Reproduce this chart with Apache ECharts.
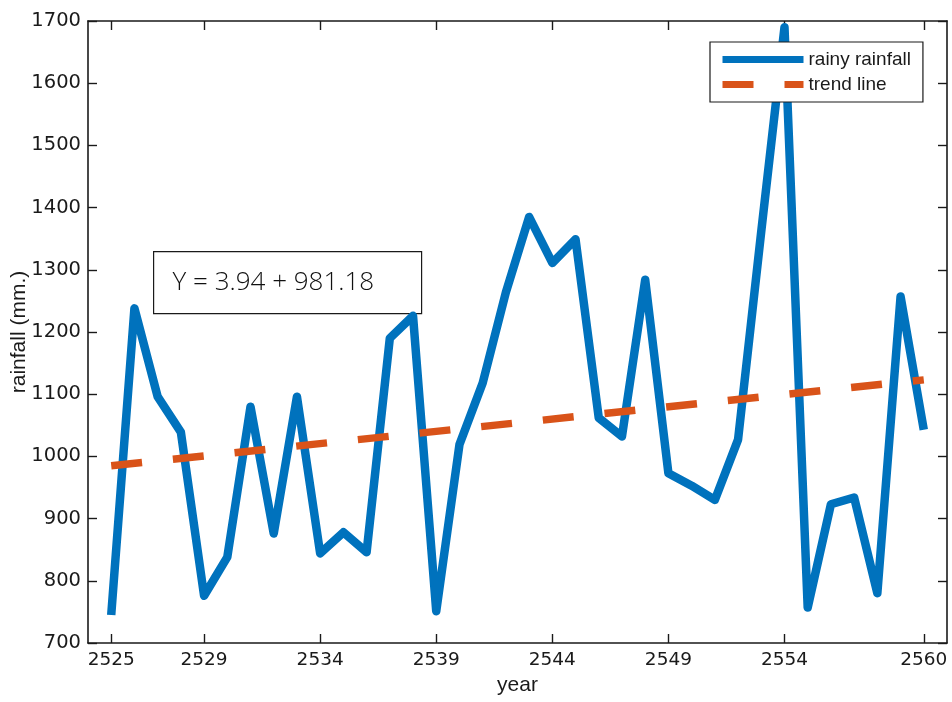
<!DOCTYPE html>
<html>
<head>
<meta charset="utf-8">
<title>Rainy season rainfall</title>
<script src="https://cdn.jsdelivr.net/npm/echarts@6/dist/echarts.min.js"></script>
<style>
  html, body { margin: 0; padding: 0; background: #ffffff; }
  #chart { width: 952px; height: 702px; }
</style>
</head>
<body>
<div id="chart"></div>
<script>
// Years (Buddhist Era) and rainy-season rainfall in mm
const years = [
  2525, 2526, 2527, 2528, 2529, 2530, 2531, 2532, 2533, 2534, 2535, 2536,
  2537, 2538, 2539, 2540, 2541, 2542, 2543, 2544, 2545, 2546, 2547, 2548,
  2549, 2550, 2551, 2552, 2553, 2554, 2555, 2556, 2557, 2558, 2559, 2560
];
const rainfall = [
  745, 1238, 1096, 1039, 776, 838, 1080, 876, 1096, 844, 878, 846,
  1190, 1226, 751, 1019, 1118, 1264, 1385, 1311, 1349, 1062, 1032, 1284,
  973, 953, 930, 1027, 1362, 1690, 757, 923, 934, 780, 1257, 1043
];

// Linear trend end points
const trendYears = [2525, 2560];
const trendValues = [985.1, 1123.0];

// Axis ticks
const xTickValues = [2525, 2529, 2534, 2539, 2544, 2549, 2554, 2560];
const equationText = 'Y = 3.94 + 981.18';

const BLUE = '#0072BD';
const ORANGE = '#D95319';
const AXIS = '#1a1a1a';

const rainSeriesData = years.map((y, i) => [y, rainfall[i]]);
const trendSeriesData = trendYears.map((y, i) => [y, trendValues[i]]);

const chart = echarts.init(document.getElementById('chart'), null, { renderer: 'canvas' });

chart.setOption({
  backgroundColor: '#ffffff',
  animation: false,
  grid: { left: 88, right: 5, top: 21, bottom: 59, containLabel: false, outerBoundsMode: 'none' },
  legend: {
    orient: 'vertical',
    left: 710,
    top: 42,
    padding: [8, 12, 8, 9],
    itemGap: 6,
    itemWidth: 81,
    itemHeight: 14,
    borderColor: '#1a1a1a',
    borderWidth: 1.2,
    backgroundColor: '#ffffff',
    lineStyle: { width: 7 },
    itemStyle: { opacity: 0 },
    textStyle: { fontFamily: 'Liberation Sans', fontSize: 19, color: '#1a1a1a' },
    data: ['rainy rainfall', 'trend line']
  },
  xAxis: [
    {
      type: 'value',
      min: 2524,
      max: 2561,
      position: 'bottom',
      name: 'year',
      nameLocation: 'middle',
      nameGap: 32,
      nameTextStyle: { fontFamily: 'Liberation Sans', fontSize: 21, color: '#1a1a1a' },
      axisLine: { show: true, onZero: false, lineStyle: { color: AXIS, width: 1.6 } },
      axisTick: { show: true, inside: true, length: 9, customValues: xTickValues, lineStyle: { color: AXIS, width: 1.4 } },
      axisLabel: {
        margin: 8, customValues: xTickValues, formatter: v => String(v),
        fontFamily: 'DejaVu Sans', fontSize: 18.5, color: '#1a1a1a'
      },
      splitLine: { show: false }
    },
    {
      type: 'value',
      min: 2524,
      max: 2561,
      position: 'top',
      axisLine: { show: true, onZero: false, lineStyle: { color: AXIS, width: 1.6 } },
      axisTick: { show: true, inside: true, length: 9, customValues: xTickValues, lineStyle: { color: AXIS, width: 1.4 } },
      axisLabel: { show: false },
      splitLine: { show: false }
    }
  ],
  yAxis: [
    {
      type: 'value',
      min: 700,
      max: 1700,
      interval: 100,
      position: 'left',
      name: 'rainfall (mm.)',
      nameLocation: 'middle',
      nameGap: 58,
      nameMoveOverlap: false,
      nameRotate: 90,
      nameTextStyle: { fontFamily: 'Liberation Sans', fontSize: 21, color: '#1a1a1a' },
      axisLine: { show: true, onZero: false, lineStyle: { color: AXIS, width: 1.6 } },
      axisTick: { show: true, inside: true, length: 9, lineStyle: { color: AXIS, width: 1.4 } },
      axisLabel: {
        margin: 7, formatter: v => String(v),
        fontFamily: 'DejaVu Sans', fontSize: 19.5, color: '#1a1a1a'
      },
      splitLine: { show: false }
    },
    {
      type: 'value',
      min: 700,
      max: 1700,
      interval: 100,
      position: 'right',
      axisLine: { show: true, onZero: false, lineStyle: { color: AXIS, width: 1.6 } },
      axisTick: { show: true, inside: true, length: 9, lineStyle: { color: AXIS, width: 1.4 } },
      axisLabel: { show: false },
      splitLine: { show: false }
    }
  ],
  series: [
    {
      name: 'rainy rainfall',
      type: 'line',
      xAxisIndex: 0,
      yAxisIndex: 0,
      data: rainSeriesData,
      symbol: 'none',
      color: BLUE,
      lineStyle: { color: BLUE, width: 8.5, join: 'round' },
      z: 2
    },
    {
      name: 'trend line',
      type: 'line',
      xAxisIndex: 0,
      yAxisIndex: 0,
      data: trendSeriesData,
      symbol: 'none',
      color: ORANGE,
      lineStyle: { color: ORANGE, width: 7.5, type: [31, 31], cap: 'butt' },
      z: 3
    }
  ],
  graphic: [
    {
      type: 'group',
      left: 153,
      top: 251,
      z: 10,
      children: [
        {
          type: 'rect',
          shape: { x: 0, y: 0, width: 268, height: 62 },
          style: { fill: '#ffffff', stroke: '#1a1a1a', lineWidth: 1.2 }
        },
        {
          type: 'text',
          x: 19,
          y: 31,
          style: {
            text: equationText,
            font: '300 26px "Open Sans", "Liberation Sans", sans-serif',
            fill: '#111111',
            verticalAlign: 'middle'
          }
        }
      ]
    }
  ]
});
</script>
</body>
</html>
